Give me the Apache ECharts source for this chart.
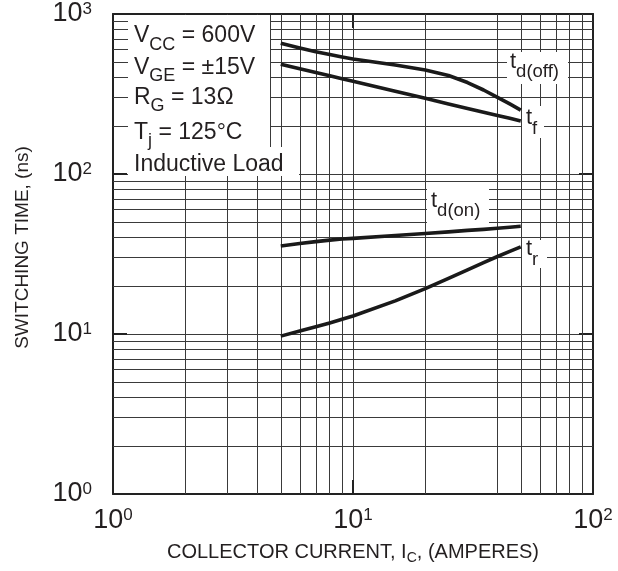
<!DOCTYPE html>
<html>
<head>
<meta charset="utf-8">
<script src="https://cdn.jsdelivr.net/npm/echarts@6/dist/echarts.min.js"></script>
<style>
  html, body { margin: 0; padding: 0; background: #fff; }
  #chart { width: 618px; height: 571px; }
</style>
</head>
<body>
<div id="chart"></div>
<script>
// Collector current (A) at which each switching-time curve is sampled
const currentA = [5, 6, 7, 8, 9, 10, 15, 20, 25, 30, 35, 40, 45, 50];

// Switching times (ns)
const tdOff = [656, 613, 580, 558, 539, 523, 480, 447, 413, 373, 335, 301, 274, 251];
const tFall = [485, 454, 431, 411, 394, 380, 329, 297, 274, 257, 243, 232, 223, 214.5];
const tdOn  = [35.5, 36.8, 37.8, 38.6, 39.2, 39.6, 41.3, 42.5, 43.5, 44.4, 45.1, 45.8, 46.5, 47.2];
const tRise = [9.7, 10.43, 11.09, 11.73, 12.36, 12.96, 16.1, 19.2, 22.3, 25.2, 27.9, 30.5, 32.8, 35.0];

// Log-paper minor rulings (the sheet has no 30 A ruling)
const rulingX = [2, 3, 4, 5, 6, 7, 8, 9, 20, 40, 50, 60, 70, 80, 90];
const rulingY = [2, 3, 4, 5, 6, 7, 8, 9, 20, 30, 40, 50, 60, 70, 80, 90, 200, 300, 400, 500, 600, 700, 800, 900];

// Text
const xTitle = ['COLLECTOR CURRENT, I', 'C', ', (AMPERES)'];
const yTitle = 'SWITCHING TIME, (ns)';
const conditions = [
  ['V', 'CC', ' = 600V'],
  ['V', 'GE', ' = \u00b115V'],
  ['R', 'G', ' = 13\u03a9'],
  ['T', 'j', ' = 125\u00b0C'],
  ['Inductive Load', '', '']
];
const curveNames = [['t', 'd(off)'], ['t', 'f'], ['t', 'd(on)'], ['t', 'r']];

const FONT = 'Liberation Sans, Arial, Helvetica, sans-serif';
const INK = '#231f20';
const RULE = '#3a3a3a';

const pairs = ys => currentA.map((x, i) => [x, ys[i]]);

// Decade labels: 10 with a raised exponent
function expLabel(v) {
  const e = Math.round(Math.log10(v));
  return '{b|10}{e|' + e + '}';
}
const tickRich = {
  b: { fontSize: 27, fontFamily: FONT, color: INK, lineHeight: 27 },
  e: { fontSize: 17, fontFamily: FONT, color: INK, lineHeight: 17, height: 17, verticalAlign: 'top' }
};

function subText(parts) {
  let s = '{m|' + parts[0] + '}';
  if (parts[1]) s += '{s|' + parts[1] + '}';
  if (parts[2]) s += '{m|' + parts[2] + '}';
  return s;
}

// Subscripts: a short token pinned to the bottom of a 24px line
const boxRich = {
  m: { fontSize: 23, fontFamily: FONT, fill: INK, lineHeight: 24, verticalAlign: 'middle' },
  s: { fontSize: 18, fontFamily: FONT, fill: INK, lineHeight: 6, height: 6, verticalAlign: 'bottom' }
};
const curveRich = {
  m: { fontSize: 22, fontFamily: FONT, fill: INK, lineHeight: 24, verticalAlign: 'middle' },
  s: { fontSize: 18.5, fontFamily: FONT, fill: INK, lineHeight: 3, height: 3, verticalAlign: 'bottom' }
};

const frameAxis = {
  axisLine: { show: true, onZero: false, lineStyle: { color: '#222', width: 2 } },
  axisTick: { show: true, inside: true, length: 14, lineStyle: { color: '#222', width: 2 } },
  splitLine: { show: true, lineStyle: { color: RULE, width: 1 } },
  minorTick: { show: false },
  minorSplitLine: { show: false }
};

const curveStyle = { color: '#1a1a1a', width: 3.6, cap: 'butt', join: 'round' };
function curve(name, ys) {
  return {
    name, type: 'line', data: pairs(ys), showSymbol: false, symbol: 'none',
    smooth: false, lineStyle: curveStyle, z: 10, silent: true, animation: false
  };
}

const conditionTops = [23.8, 55.5, 85.5, 120.5, 152.2];
const curveLabelPos = [[510, 49.7], [526, 106.3], [431, 188.8], [526, 237]];
const curveLabelBoxes = [[507, 52, 61, 32], [522, 106, 22, 32], [427, 189, 62, 34], [522, 240, 25, 28]];

const graphics = [
  { type: 'rect', z: 8, shape: { x: 128, y: 15, width: 142, height: 132 }, style: { fill: '#fff' } },
  { type: 'rect', z: 8, shape: { x: 128, y: 147, width: 171, height: 29 }, style: { fill: '#fff' } },
  { type: 'line', z: 8, shape: { x1: 270.5, y1: 15, x2: 270.5, y2: 147 }, style: { stroke: RULE, lineWidth: 1 } }
];
conditions.forEach((c, i) => {
  graphics.push({
    type: 'text', z: 9, x: 134, y: conditionTops[i],
    style: { text: subText(c), rich: boxRich, fill: INK, align: 'left', verticalAlign: 'top', font: '23px ' + FONT }
  });
});
curveLabelBoxes.forEach(b => {
  graphics.push({ type: 'rect', z: 8, shape: { x: b[0], y: b[1], width: b[2], height: b[3] }, style: { fill: '#fff' } });
});
curveNames.forEach((c, i) => {
  graphics.push({
    type: 'text', z: 9, x: curveLabelPos[i][0], y: curveLabelPos[i][1],
    style: { text: subText(c), rich: curveRich, fill: INK, align: 'left', verticalAlign: 'top', font: '22px ' + FONT }
  });
});
graphics.push({
  type: 'text', z: 9, x: 23, y: 247.5, rotation: Math.PI / 2,
  style: { text: yTitle, fill: INK, align: 'center', verticalAlign: 'middle', font: '19px ' + FONT }
});

const chart = echarts.init(document.getElementById('chart'), null, { renderer: 'canvas' });
chart.setOption({
  animation: false,
  backgroundColor: '#fff',
  grid: { left: 113, top: 14, width: 480, height: 480, containLabel: false },
  xAxis: [
    Object.assign({
      type: 'log', logBase: 10, min: 1, max: 100, position: 'bottom',
      axisLabel: { formatter: expLabel, rich: tickRich, margin: 13, showMinLabel: true, showMaxLabel: true },
      name: '{n|' + xTitle[0] + '}{c|' + xTitle[1] + '}{n|' + xTitle[2] + '}',
      nameLocation: 'middle', nameGap: 47,
      nameTextStyle: {
        rich: {
          n: { fontSize: 20, fontFamily: FONT, color: INK, lineHeight: 22 },
          c: { fontSize: 14, fontFamily: FONT, color: INK, lineHeight: 10, height: 10, verticalAlign: 'bottom' }
        }
      }
    }, frameAxis),
    Object.assign({
      type: 'log', logBase: 10, min: 1, max: 100, position: 'top',
      axisLabel: { show: false }
    }, frameAxis, { splitLine: { show: false } })
  ],
  yAxis: [
    Object.assign({
      type: 'log', logBase: 10, min: 1, max: 1000, position: 'left',
      axisLabel: { formatter: expLabel, rich: tickRich, margin: 21, showMinLabel: true, showMaxLabel: true }
    }, frameAxis),
    Object.assign({
      type: 'log', logBase: 10, min: 1, max: 1000, position: 'right',
      axisLabel: { show: false }
    }, frameAxis, { splitLine: { show: false } })
  ],
  graphic: { elements: graphics },
  series: [
    {
      name: 'rulings', type: 'line', data: [], silent: true, z: 1,
      markLine: {
        silent: true, z: 3, symbol: ['none', 'none'], animation: false,
        label: { show: false },
        lineStyle: { type: 'solid', color: RULE, width: 1 },
        emphasis: { disabled: true },
        data: rulingX.map(v => ({ xAxis: v })).concat(rulingY.map(v => ({ yAxis: v })))
      }
    },
    curve('td(off)', tdOff),
    curve('tf', tFall),
    curve('td(on)', tdOn),
    curve('tr', tRise)
  ]
});
</script>
</body>
</html>
